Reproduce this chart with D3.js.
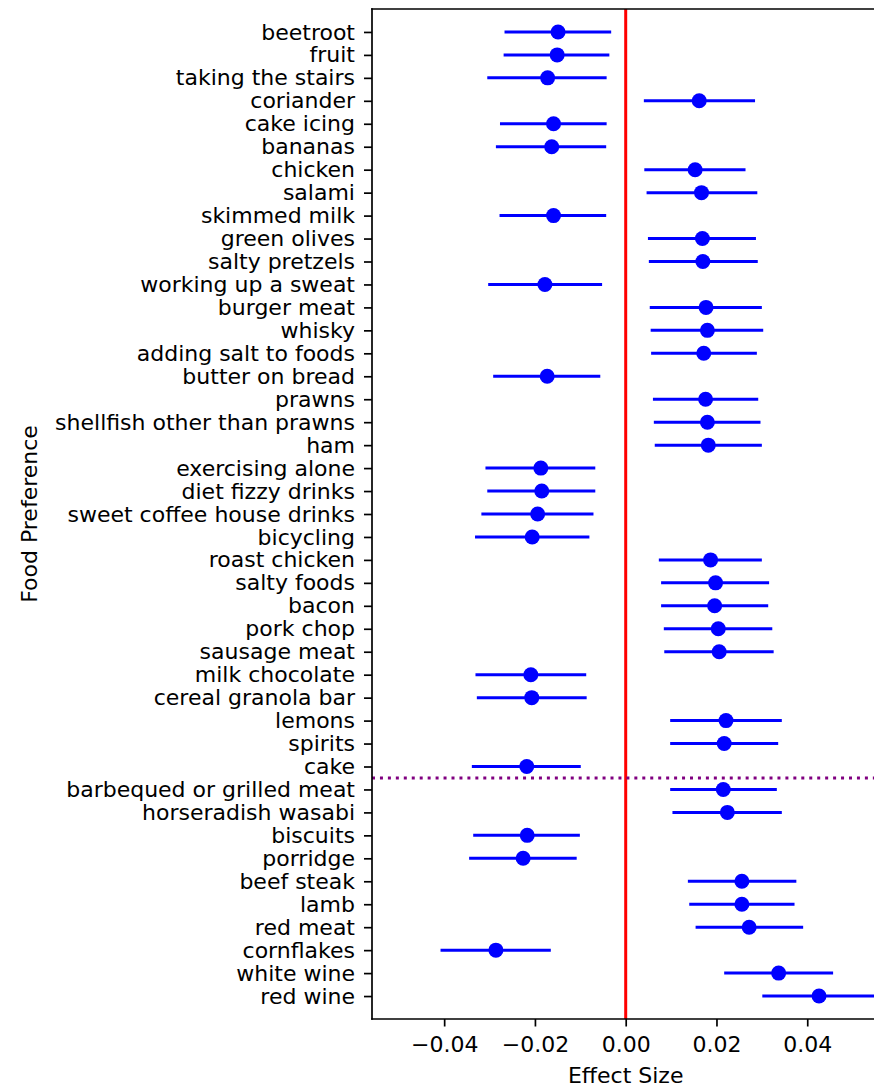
<!DOCTYPE html>
<html>
<head>
<meta charset="utf-8">
<script src="https://cdn.jsdelivr.net/npm/d3@7"></script>
<style>
  html, body { margin: 0; padding: 0; background: #fff; }
  svg { display: block; font-family: "DejaVu Sans", sans-serif; }
</style>
</head>
<body>
<svg id="chart" width="874" height="1087"></svg>
<script>
const categories = [
  "beetroot", "fruit", "taking the stairs", "coriander", "cake icing", "bananas",
  "chicken", "salami", "skimmed milk", "green olives", "salty pretzels",
  "working up a sweat", "burger meat", "whisky", "adding salt to foods",
  "butter on bread", "prawns", "shellfish other than prawns", "ham",
  "exercising alone", "diet fizzy drinks", "sweet coffee house drinks", "bicycling",
  "roast chicken", "salty foods", "bacon", "pork chop", "sausage meat",
  "milk chocolate", "cereal granola bar", "lemons", "spirits", "cake",
  "barbequed or grilled meat", "horseradish wasabi", "biscuits", "porridge",
  "beef steak", "lamb", "red meat", "cornflakes", "white wine", "red wine"
];
const effect = [
  -0.0149, -0.0151, -0.0172, 0.0162, -0.0159, -0.0163,
  0.0153, 0.0167, -0.0159, 0.0169, 0.0170,
  -0.0178, 0.0177, 0.0180, 0.0172,
  -0.0173, 0.0176, 0.0180, 0.0182,
  -0.0187, -0.0185, -0.0194, -0.0206,
  0.0187, 0.0198, 0.0196, 0.0204, 0.0206,
  -0.0209, -0.0207, 0.0221, 0.0217, -0.0218,
  0.0215, 0.0224, -0.0217, -0.0226,
  0.0256, 0.0256, 0.0272, -0.0286, 0.0337, 0.0426
];
const lower = [
  -0.0267, -0.0269, -0.0305, 0.0040, -0.0277, -0.0286,
  0.0041, 0.0046, -0.0278, 0.0049, 0.0051,
  -0.0303, 0.0053, 0.0055, 0.0056,
  -0.0292, 0.0060, 0.0062, 0.0064,
  -0.0309, -0.0305, -0.0318, -0.0332,
  0.0073, 0.0078, 0.0078, 0.0084, 0.0085,
  -0.0331, -0.0328, 0.0098, 0.0098, -0.0339,
  0.0098, 0.0103, -0.0336, -0.0345,
  0.0137, 0.0140, 0.0154, -0.0408, 0.0217, 0.0301
];
const upper = [
  -0.0032, -0.0036, -0.0042, 0.0285, -0.0042, -0.0043,
  0.0264, 0.0290, -0.0043, 0.0287, 0.0291,
  -0.0052, 0.0300, 0.0303, 0.0289,
  -0.0056, 0.0292, 0.0297, 0.0300,
  -0.0067, -0.0067, -0.0071, -0.0080,
  0.0300, 0.0316, 0.0314, 0.0323, 0.0326,
  -0.0087, -0.0086, 0.0344, 0.0336, -0.0099,
  0.0333, 0.0344, -0.0101, -0.0108,
  0.0376, 0.0372, 0.0391, -0.0165, 0.0457, 0.0551
];
const xTicks = [-0.04, -0.02, 0.00, 0.02, 0.04];
const xDomain = [-0.0559, 0.0559];
const separatorIndex = 32.5;
const xLabel = "Effect Size";
const yLabel = "Food Preference";

const svg = d3.select("#chart");
const mLeft = 372, mTop = 9, mBottom = 1019, mRight = 879.4;
const fontSize = "22px";

svg.append("rect").attr("width", 874).attr("height", 1087).attr("fill", "#fff");

const x = d3.scaleLinear().domain(xDomain).range([mLeft, mRight]);
const y = d3.scaleLinear().domain([-1, categories.length]).range([mTop, mBottom]);

svg.append("defs").append("clipPath").attr("id", "plotclip")
  .append("rect").attr("x", mLeft).attr("y", mTop).attr("width", mRight - mLeft).attr("height", mBottom - mTop);

const plot = svg.append("g").attr("clip-path", "url(#plotclip)");

plot.append("line")
  .attr("x1", x(0)).attr("x2", x(0)).attr("y1", mTop).attr("y2", mBottom)
  .attr("stroke", "#ff0000").attr("stroke-width", 3);

plot.append("line")
  .attr("x1", mLeft).attr("x2", mRight)
  .attr("y1", y(separatorIndex)).attr("y2", y(separatorIndex))
  .attr("stroke", "#800080").attr("stroke-width", 3)
  .attr("stroke-dasharray", "3,4.95");

const rows = categories.map((c, i) => ({c, i, e: effect[i], lo: lower[i], hi: upper[i]}));

plot.selectAll("line.err").data(rows).join("line")
  .attr("class", "err")
  .attr("x1", d => x(d.lo)).attr("x2", d => x(d.hi))
  .attr("y1", d => y(d.i)).attr("y2", d => y(d.i))
  .attr("stroke", "#0000ff").attr("stroke-width", 3);

plot.selectAll("circle.pt").data(rows).join("circle")
  .attr("class", "pt")
  .attr("cx", d => x(d.e)).attr("cy", d => y(d.i)).attr("r", 7.5)
  .attr("fill", "#0000ff");

svg.append("line").attr("x1", mLeft).attr("x2", mLeft).attr("y1", mTop).attr("y2", mBottom)
  .attr("stroke", "#000").attr("stroke-width", 1.7).attr("stroke-linecap", "square");
svg.append("line").attr("x1", mLeft).attr("x2", mRight).attr("y1", mTop).attr("y2", mTop)
  .attr("stroke", "#000").attr("stroke-width", 1.7).attr("stroke-linecap", "square");
svg.append("line").attr("x1", mLeft).attr("x2", mRight).attr("y1", mBottom).attr("y2", mBottom)
  .attr("stroke", "#000").attr("stroke-width", 1.7).attr("stroke-linecap", "square");

const xAxis = d3.axisBottom(x).tickValues(xTicks).tickSize(7.5).tickPadding(10)
  .tickFormat(d => d3.format(".2f")(d).replace("-", "\u2212"));
const gx = svg.append("g").attr("transform", `translate(0,${mBottom})`).call(xAxis);
gx.select(".domain").remove();
gx.selectAll(".tick line").attr("stroke", "#000").attr("stroke-width", 1.7);
gx.selectAll(".tick text").attr("fill", "#000").style("font-size", fontSize)
  .style("font-family", "DejaVu Sans, sans-serif");

const yAxis = d3.axisLeft(y).tickValues(d3.range(categories.length)).tickSize(8).tickPadding(9)
  .tickFormat(i => categories[i]);
const gy = svg.append("g").attr("transform", `translate(${mLeft},0)`).call(yAxis);
gy.select(".domain").remove();
gy.selectAll(".tick line").attr("stroke", "#000").attr("stroke-width", 1.7);
gy.selectAll(".tick text").attr("fill", "#000").style("font-size", fontSize)
  .style("font-family", "DejaVu Sans, sans-serif");

svg.append("text").attr("x", (mLeft + mRight) / 2).attr("y", 1083)
  .attr("text-anchor", "middle").style("font-size", fontSize).text(xLabel);
svg.append("text")
  .attr("transform", `translate(37,${(mTop + mBottom) / 2}) rotate(-90)`)
  .attr("text-anchor", "middle").style("font-size", fontSize).text(yLabel);
</script>
</body>
</html>
